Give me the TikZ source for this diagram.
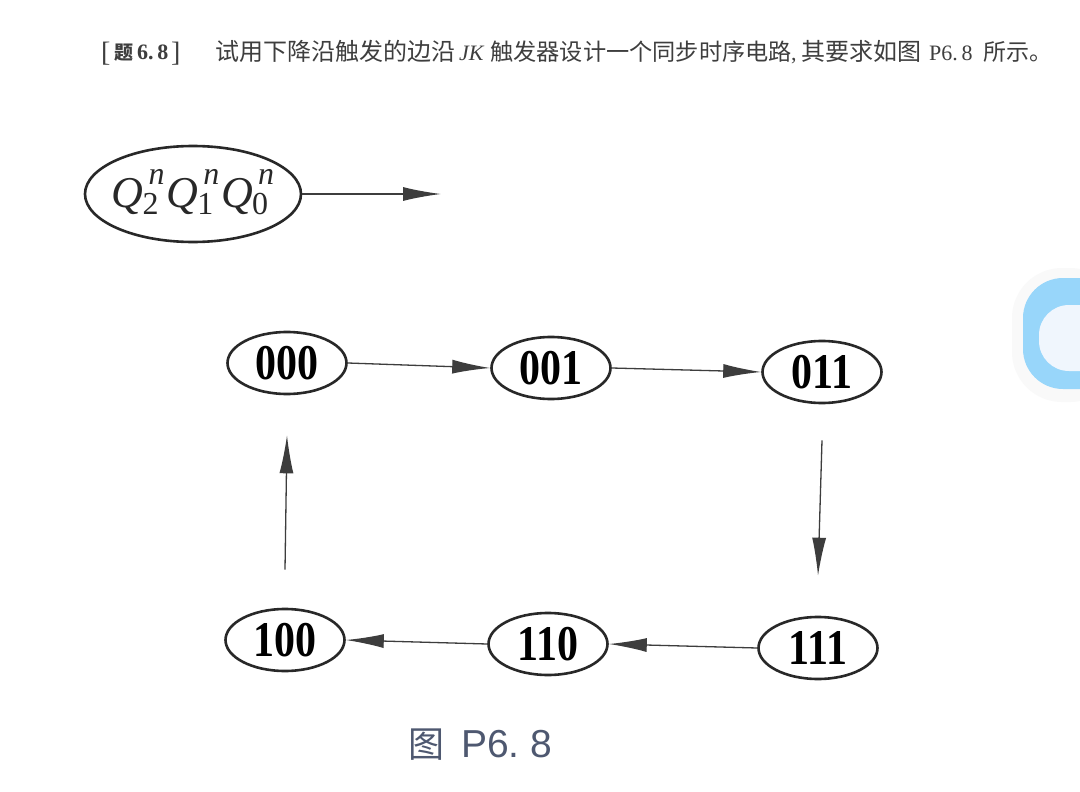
\documentclass[tikz,border=0pt]{standalone}
\usepackage{fontspec}
\setmainfont{Liberation Serif}
\newfontfamily\cjk{Noto Sans CJK SC}
\newfontfamily\capsans{Liberation Sans}
\usetikzlibrary{shapes.geometric,arrows.meta}

\definecolor{ink}{RGB}{40,40,40}
\definecolor{printgray}{RGB}{62,62,62}
\definecolor{capblue}{RGB}{78,88,112}
\definecolor{btnblue}{RGB}{152,214,250}
\definecolor{btninner}{RGB}{240,246,253}
\definecolor{btnshade}{RGB}{249,249,249}

% Q with superscript n and a numeric subscript
\newcommand\qstate[1]{\textit{Q}\kern-1pt\rlap{\kern6pt\raisebox{23pt}{\fontsize{32}{32}\selectfont\itshape n}}\raisebox{-7pt}{\fontsize{32}{32}\selectfont #1}}
% condensed bold state code
\newcommand\code[1]{\scalebox{0.84}[1]{#1}}

\begin{document}
\begin{tikzpicture}[x=1pt,y=-1pt,
  state/.style={ellipse,draw=ink,line width=2.6pt,minimum width=119pt,minimum height=62pt,inner sep=0pt,
    font=\fontsize{50}{50}\selectfont\bfseries},
  arr/.style={draw=ink!90,line width=1.3pt,-{Latex[length=38pt,width=14pt]}},
  ttl/.style={inner sep=0pt,anchor=base west,text=printgray},
]
\path[use as bounding box,fill=white] (0,0) rectangle (1080,792);

% problem statement
\node[ttl,font=\fontsize{28}{28}\selectfont] (tg1) at (101,62) {[};
\node[ttl,font=\fontsize{19}{19}\selectfont\cjk\bfseries] (tg2) at (114,60) {题};
\node[ttl,font=\fontsize{22}{22}\selectfont\bfseries] (tg3) at (137,60) {6.\,8};
\node[ttl,font=\fontsize{28}{28}\selectfont] (tg4) at (171,62) {]};
\node[ttl,font=\fontsize{24}{24}\selectfont\cjk] (t1) at (215,61) {试用下降沿触发的边沿};
\node[ttl,font=\fontsize{22}{22}\selectfont\itshape] (t2) at (459,61) {JK};
\node[ttl,font=\fontsize{23.2}{23.2}\selectfont\cjk] (t3) at (490,61) {触发器设计一个同步时序电路};
\node[ttl,font=\fontsize{22}{22}\selectfont] (t4) at (791,61) {,};
\node[ttl,font=\fontsize{24}{24}\selectfont\cjk] (t5) at (801,61) {其要求如图};
\node[ttl,font=\fontsize{22}{22}\selectfont] (t6) at (929,61) {P6.\,8};
\node[ttl,font=\fontsize{23}{23}\selectfont\cjk] (t7) at (983,61) {所示。};

% legend: state variable order
\node[ellipse,draw=ink,line width=2.6pt,minimum width=216pt,minimum height=96pt,inner sep=0pt] (hdr) at (193,194) {};
\node[inner sep=0pt,font=\fontsize{44}{44}\selectfont,text=ink] (hdrtxt) at (190,192) {\qstate{2}\kern8pt\qstate{1}\kern8pt\qstate{0}};
\coordinate (hdrend) at (441,194);
\draw[arr] (hdr.east) -- (hdrend);

% states
\node[state] (s000) at (287,363) {\code{000}};
\node[state] (s001) at (551,368) {\code{001}};
\node[state] (s011) at (822,372) {\code{011}};
\node[state] (s100) at (285,640) {\code{100}};
\node[state] (s110) at (548,644) {\code{110}};
\node[state] (s111) at (818,648) {\code{111}};

% transitions
\draw[arr] (s000.east) -- (s001.west);
\draw[arr] (s001.east) -- (s011.west);
\draw[arr] ([yshift=-36pt]s011.south) -- ([yshift=40pt]s111.north);
\draw[arr] (s111.west) -- (s110.east);
\draw[arr] (s110.west) -- (s100.east);
\draw[arr] ([yshift=38pt]s100.north) -- ([yshift=-40pt]s000.south);

% caption
\node[inner sep=0pt,anchor=base west,text=capblue,font=\fontsize{36}{36}\selectfont\cjk] (cap1) at (408,757) {图};
\node[inner sep=0pt,anchor=base west,text=capblue,font=\fontsize{39}{39}\selectfont\capsans] (cap2) at (461,757) {P6.\hspace{11pt}8};

% floating button at the right edge
\fill[btnshade,rounded corners=50pt] (1012,268) rectangle (1120,402);
\fill[btnblue,rounded corners=40pt] (1023,278) rectangle (1120,389);
\fill[btninner,rounded corners=30pt] (1039,305) rectangle (1120,371);
\end{tikzpicture}
\end{document}
